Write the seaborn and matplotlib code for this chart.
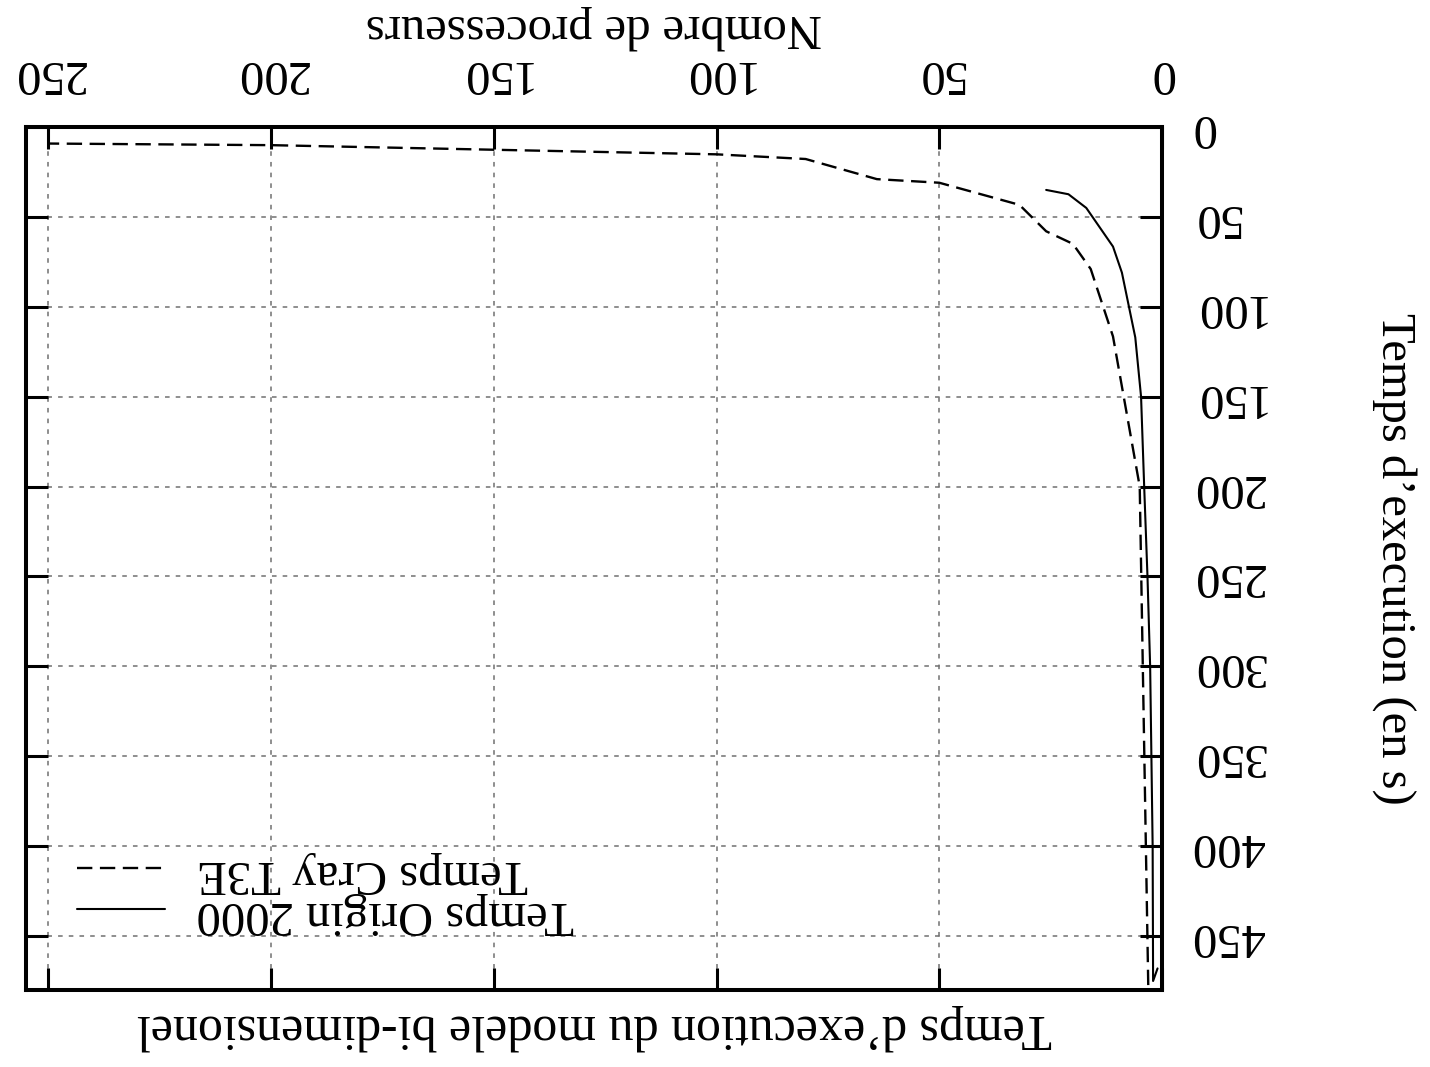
import matplotlib
matplotlib.use("Agg")
import matplotlib.pyplot as plt
import seaborn as sns
import pandas as pd

# Temps d'execution du modele bi-dimensionel (graphique gnuplot tourne de 180 degres)
proc_cray = [250, 200, 100, 80, 64, 50, 32, 26, 20, 16, 11, 5, 3]
temps_cray = [9.2, 10.1, 15.2, 17.8, 29, 31, 43.3, 58, 65, 79, 116.5, 200, 490]

proc_origin = [26, 21, 17, 11, 9, 6, 4.7, 4, 3.26, 2.66, 2.1, 2, 1]
temps_origin = [35, 37.4, 45, 66.5, 81, 117, 150, 200, 250, 300, 400, 475, 468]

x_ticks = [0, 50, 100, 150, 200, 250]
y_ticks = [0, 50, 100, 150, 200, 250, 300, 350, 400, 450]

label_cray = "Temps Cray T3E"
label_origin = "Temps Origin 2000"

df_cray = pd.DataFrame({"proc": proc_cray, "temps": temps_cray})
df_origin = pd.DataFrame({"proc": proc_origin, "temps": temps_origin})

sns.set_style("white")
plt.rcParams["font.family"] = ["Liberation Serif", "DejaVu Serif"]
plt.rcParams["text.color"] = "black"
plt.rcParams["axes.labelcolor"] = "black"
FS = 35

fig = plt.figure(figsize=(14.3, 10.67), dpi=100)
ax = fig.add_axes([26 / 1430, 77 / 1067, 1136 / 1430, 863 / 1067])

sns.lineplot(data=df_origin, x="proc", y="temps", ax=ax, color="black",
             linewidth=1.5, estimator=None, errorbar=None, label=label_origin)
sns.lineplot(data=df_cray, x="proc", y="temps", ax=ax, color="black",
             linewidth=1.7, linestyle=(0, (6.5, 3.2)), estimator=None,
             errorbar=None, label=label_cray)

# axes inverses : tout est a l'envers
ax.set_xlim(255, 0)
ax.set_ylim(480, 0)
ax.set_xticks(x_ticks)
ax.set_yticks(y_ticks)

ax.grid(True, color="#707070", linestyle=(0, (3, 4)), linewidth=1.1)
for s in ax.spines.values():
    s.set_linewidth(2.9)
    s.set_color("black")

ax.tick_params(axis="both", which="major", direction="in", length=16, width=2.2,
               top=True, bottom=True, left=True, right=True,
               labeltop=True, labelbottom=False, labelleft=False, labelright=True,
               labelsize=FS, colors="black")
ax.tick_params(axis="x", labelrotation=180, pad=23)
ax.tick_params(axis="y", labelrotation=180, pad=21)
for lab in ax.get_yticklabels():
    lab.set_va("center")

ax.xaxis.set_label_position("top")
ax.yaxis.set_label_position("right")
ax.set_xlabel("Nombre de processeurs", fontsize=FS, rotation=180, labelpad=8)
ax.set_ylabel("Temps d’execution (en s)", fontsize=FS, rotation=270,
              labelpad=94, va="center")
ax.set_title("Temps d’execution du modele bi-dimensionel", fontsize=FS + 1,
             rotation=180, y=-0.043, va="center", pad=0)

h, l = ax.get_legend_handles_labels()
order = [l.index(label_cray), l.index(label_origin)]
leg = ax.legend([h[i] for i in order], [l[i] for i in order],
                loc="lower left", bbox_to_anchor=(0.045, 0.062), frameon=False,
                fontsize=FS, handlelength=1.8, handletextpad=0.66,
                labelspacing=-0.05, borderpad=0, borderaxespad=0)
for t in leg.get_texts():
    t.set_rotation(180)

fig.savefig("out.png", dpi=100)
